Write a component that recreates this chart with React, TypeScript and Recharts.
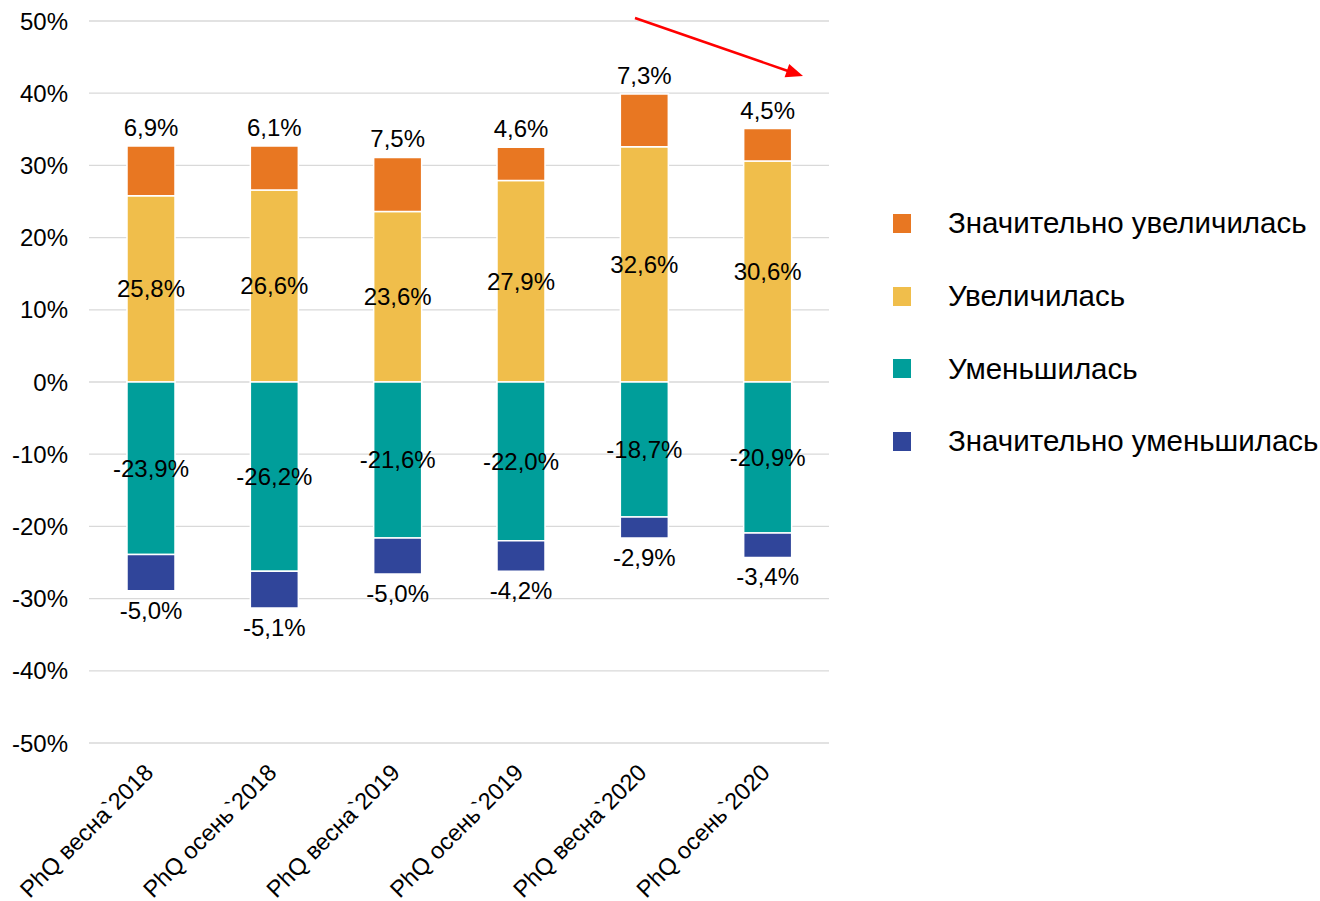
import { BarChart, Bar, XAxis, YAxis, CartesianGrid, LabelList } from "recharts";

const categories = [
  "PhQ весна`2018",
  "PhQ осень`2018",
  "PhQ весна`2019",
  "PhQ осень`2019",
  "PhQ весна`2020",
  "PhQ осень`2020",
];
const increasedStrongly = [6.9, 6.1, 7.5, 4.6, 7.3, 4.5];
const increased = [25.8, 26.6, 23.6, 27.9, 32.6, 30.6];
const decreased = [-23.9, -26.2, -21.6, -22.0, -18.7, -20.9];
const decreasedStrongly = [-5.0, -5.1, -5.0, -4.2, -2.9, -3.4];
const yTicks = [-50, -40, -30, -20, -10, 0, 10, 20, 30, 40, 50];

const legendItems = [
  { name: "Значительно увеличилась", color: "#E87722" },
  { name: "Увеличилась", color: "#F0BE4B" },
  { name: "Уменьшилась", color: "#009E9A" },
  { name: "Значительно уменьшилась", color: "#30459A" },
];

const data = categories.map((name, i) => ({
  name,
  incStrong: increasedStrongly[i],
  inc: increased[i],
  dec: decreased[i],
  decStrong: decreasedStrongly[i],
}));

const FONT = "'Liberation Sans', Arial, sans-serif";
const fmt = (v: number) => v.toFixed(1).replace(".", ",") + "%";

const makeLabel = (mode: "top" | "center" | "bottom") => (props: any) => {
  const x = Number(props.x);
  const y = Number(props.y);
  const w = Number(props.width);
  const h = Number(props.height);
  const top = Math.min(y, y + h);
  const bottom = Math.max(y, y + h);
  const cx = x + w / 2;
  let ty = (top + bottom) / 2;
  let baseline: any = "central";
  if (mode === "top") {
    ty = top - 10;
    baseline = "auto";
  } else if (mode === "bottom") {
    ty = bottom + 28;
    baseline = "auto";
  }
  return (
    <text x={cx} y={ty} textAnchor="middle" dominantBaseline={baseline} fontSize={24} fontFamily={FONT} fill="#000">
      {fmt(Number(props.value))}
    </text>
  );
};

const XTick = (props: any) => {
  const { x, y, payload } = props;
  const tx = x + 4;
  const ty = y + 31;
  return (
    <text x={tx} y={ty} transform={`rotate(-45, ${tx}, ${ty})`} textAnchor="end" fontSize={23.5} fontFamily={FONT} fill="#000">
      {payload.value}
    </text>
  );
};

const App = () => {
  return (
    <div style={{ position: "absolute", left: 0, top: 0, width: 1320, height: 901, background: "#fff", fontFamily: FONT }}>
      <BarChart
        width={1320}
        height={901}
        data={data}
        stackOffset="sign"
        margin={{ top: 21, right: 491, left: 0, bottom: 8 }}
      >
        <CartesianGrid vertical={false} stroke="#d9d9d9" strokeWidth={1.3} />
        <XAxis
          dataKey="name"
          height={150}
          axisLine={false}
          tickLine={false}
          tickSize={0}
          tickMargin={0}
          interval={0}
          tick={<XTick />}
        />
        <YAxis
          width={89}
          domain={[-50, 50]}
          ticks={yTicks}
          axisLine={false}
          tickLine={false}
          tickSize={0}
          tickMargin={21}
          tickFormatter={(v: number) => `${v}%`}
          tick={{ fontSize: 24, fill: "#000", fontFamily: FONT }}
        />
        <Bar dataKey="inc" stackId="s" fill="#F0BE4B" stroke="#fff" strokeWidth={1.5} barSize={48} isAnimationActive={false}>
          <LabelList dataKey="inc" content={makeLabel("center")} />
        </Bar>
        <Bar dataKey="incStrong" stackId="s" fill="#E87722" stroke="#fff" strokeWidth={1.5} barSize={48} isAnimationActive={false}>
          <LabelList dataKey="incStrong" content={makeLabel("top")} />
        </Bar>
        <Bar dataKey="dec" stackId="s" fill="#009E9A" stroke="#fff" strokeWidth={1.5} barSize={48} isAnimationActive={false}>
          <LabelList dataKey="dec" content={makeLabel("center")} />
        </Bar>
        <Bar dataKey="decStrong" stackId="s" fill="#30459A" stroke="#fff" strokeWidth={1.5} barSize={48} isAnimationActive={false}>
          <LabelList dataKey="decStrong" content={makeLabel("bottom")} />
        </Bar>
      </BarChart>

      {/* red trend arrow */}
      <svg width={1320} height={901} style={{ position: "absolute", left: 0, top: 0, pointerEvents: "none" }}>
        <line x1={635} y1={18} x2={788} y2={71} stroke="#FF0000" strokeWidth={2.5} />
        <polygon points="803,76 784.6,77.3 789.2,63.9" fill="#FF0000" />
      </svg>

      <div style={{ position: "absolute", left: 893, top: 187 }}>
        {legendItems.map((item) => (
          <div key={item.name} style={{ display: "flex", alignItems: "center", height: 72.7 }}>
            <div style={{ width: 18, height: 19, background: item.color, marginRight: 37 }} />
            <span style={{ fontSize: 29.5, color: "#000", whiteSpace: "nowrap" }}>{item.name}</span>
          </div>
        ))}
      </div>
    </div>
  );
};

export default App;
